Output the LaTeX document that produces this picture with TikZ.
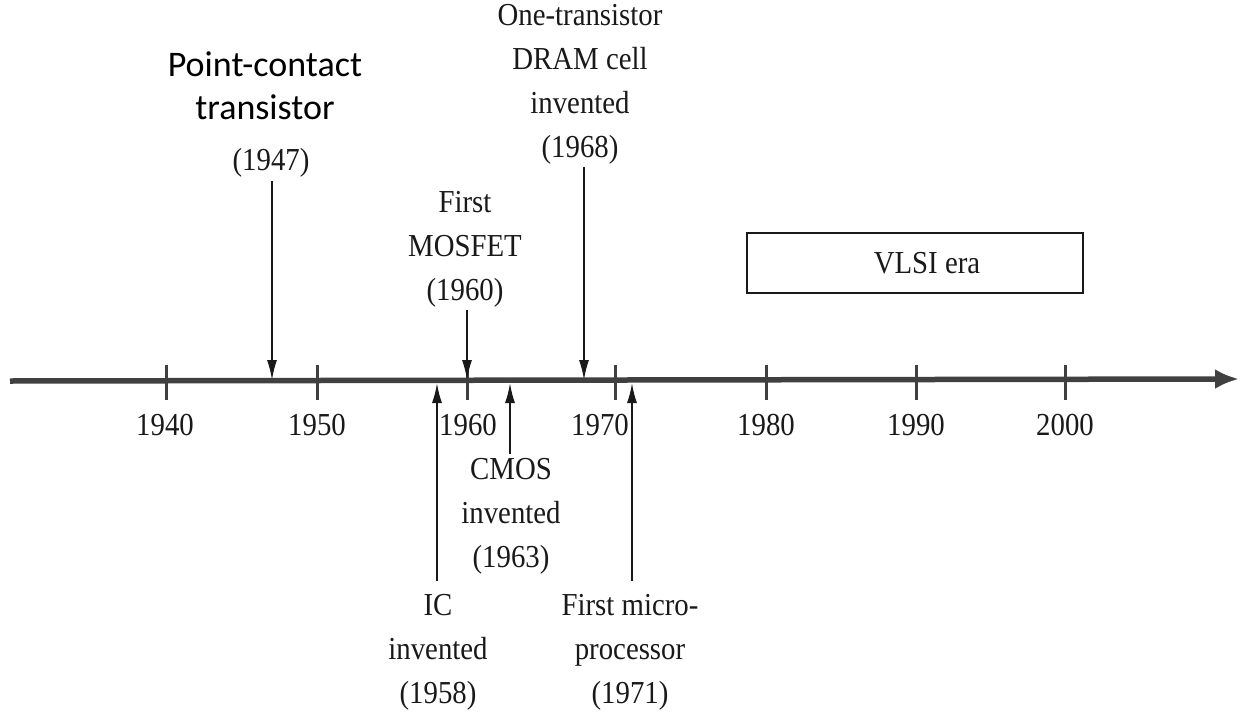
\documentclass[tikz,border=0pt]{standalone}
\usepackage{fontspec}
\setmainfont[FakeStretch=0.9]{Liberation Serif}
\newfontfamily\pcfont{Carlito}
\usetikzlibrary{arrows.meta}
\definecolor{axisgray}{gray}{0.25}
\definecolor{inkc}{gray}{0.1}
\begin{document}
\begin{tikzpicture}[x=1pt,y=-1pt,
  lbl/.style={font=\fontsize{32}{44}\selectfont, align=center, inner sep=1pt, text=inkc},
  sanslbl/.style={font=\pcfont\fontsize{36}{43}\selectfont, align=center, inner sep=1pt, text=black},
  yearlbl/.style={font=\fontsize{32}{35}\selectfont, inner sep=1pt, text=inkc},
  axisline/.style={draw=axisgray, line width=5.5pt, -{Latex[length=24pt,width=20pt]}},
  tickmark/.style={draw=axisgray, line width=3pt},
  evarrow/.style={draw=inkc, line width=1.8pt, -{Latex[length=20pt,width=10pt]}},
  erabox/.style={draw=inkc, line width=1.8pt, minimum width=336pt, minimum height=60pt, inner sep=0pt}]
\useasboundingbox (0,0) rectangle (1240,715);
% axis
\coordinate (axL) at (10,381);
\coordinate (axR) at (1239,379);
\draw[axisline] (axL) -- (axR);
% ticks and labels
\foreach \yr/\x/\lx in {1940/166/165,1950/317/317,1960/467/468,1970/615/600,1980/766/766,1990/916/916,2000/1065/1065}{
  \coordinate (tk\yr) at (\x,381);
  \draw[tickmark] (\x,365) -- (\x,400);
  \node[yearlbl] (yl\yr) at (\lx,425) {\yr};
}
% event points on axis
\coordinate (a1947) at (272,380);
\coordinate (a1958) at (437,383);
\coordinate (a1960) at (467,380);
\coordinate (a1963) at (510,383);
\coordinate (a1968) at (584,380);
\coordinate (a1971) at (632,383);
% labels above
\node[sanslbl] (pct) at (265,86) {Point-contact\\transistor};
\node[yearlbl] (y1947) at (271,163) {(1947)};
\node[lbl] (dram) at (580,84) {One-transistor\\DRAM cell\\invented\\(1968)};
\node[lbl] (mosfet) at (465,249) {First\\MOSFET\\(1960)};
% labels below
\node[lbl] (cmos) at (511,516) {CMOS\\invented\\(1963)};
\node[lbl] (ic) at (438,652) {IC\\invented\\(1958)};
\node[lbl] (micro) at (630,652) {First micro-\\processor\\(1971)};
% arrows
\draw[evarrow, shorten <=2pt] (y1947.south -| a1947) -- (a1947);
\draw[evarrow, shorten <=2pt] (dram.south -| a1968) -- (a1968);
\draw[evarrow, shorten <=2pt] (mosfet.south -| a1960) -- (a1960);
\draw[evarrow, shorten <=3pt] (cmos.north -| a1963) -- (a1963);
\draw[evarrow, shorten <=12pt] (ic.north -| a1958) -- (a1958);
\draw[evarrow, shorten <=12pt] (micro.north -| a1971) -- (a1971);
% VLSI era box
\node[erabox] (vlsi) at (915,263) {};
\node[yearlbl] (vlsit) at (927,263) {VLSI era};
\end{tikzpicture}
\end{document}
